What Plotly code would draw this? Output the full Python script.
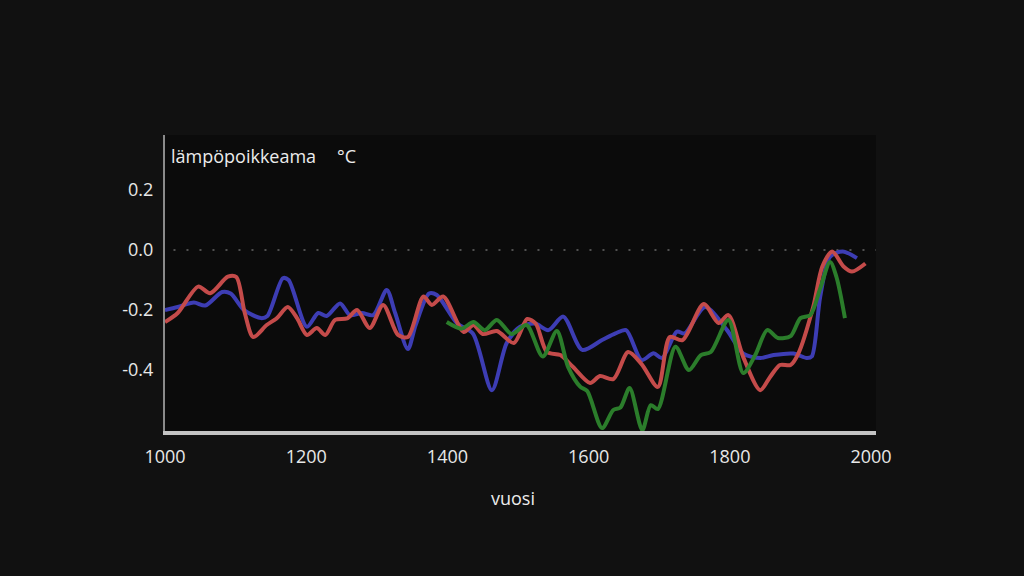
import plotly.graph_objects as go

# --- data ---
blue_years = [1000, 1018, 1041, 1057, 1081, 1093, 1112, 1136, 1145, 1167, 1175, 1201, 1217, 1229, 1248,
              1262, 1279, 1295, 1314, 1326, 1344, 1355, 1374, 1385, 1414, 1436, 1463, 1484, 1503, 1524,
              1543, 1564, 1591, 1619, 1638, 1653, 1675, 1692, 1704, 1725, 1736, 1765, 1796, 1819, 1843,
              1862, 1890, 1909, 1916, 1928, 1942, 1960, 1980]
blue_vals = [-0.20, -0.19, -0.175, -0.185, -0.14, -0.145, -0.20, -0.227, -0.22, -0.094, -0.10, -0.256,
             -0.21, -0.22, -0.178, -0.217, -0.21, -0.217, -0.133, -0.21, -0.33, -0.25, -0.145, -0.15,
             -0.245, -0.278, -0.467, -0.31, -0.256, -0.245, -0.267, -0.222, -0.333, -0.30, -0.278,
             -0.267, -0.367, -0.344, -0.36, -0.272, -0.278, -0.19, -0.267, -0.345, -0.36, -0.35, -0.345,
             -0.36, -0.355, -0.155, -0.022, -0.005, -0.027]

red_years = [1000, 1018, 1047, 1064, 1089, 1101, 1113, 1125, 1144, 1158, 1174, 1187, 1201, 1215, 1227,
             1241, 1258, 1272, 1290, 1309, 1330, 1344, 1366, 1378, 1394, 1423, 1437, 1450, 1470, 1494,
             1513, 1525, 1541, 1560, 1578, 1602, 1616, 1635, 1656, 1675, 1698, 1715, 1733, 1763, 1784,
             1798, 1819, 1843, 1857, 1871, 1886, 1897, 1918, 1931, 1945, 1961, 1973, 1992]
red_vals = [-0.24, -0.21, -0.122, -0.144, -0.089, -0.09, -0.21, -0.29, -0.25, -0.228, -0.19, -0.227,
            -0.283, -0.26, -0.283, -0.233, -0.228, -0.20, -0.26, -0.183, -0.283, -0.29, -0.155, -0.183,
            -0.155, -0.273, -0.25, -0.28, -0.27, -0.31, -0.23, -0.245, -0.34, -0.35, -0.39, -0.443,
            -0.42, -0.43, -0.34, -0.38, -0.456, -0.29, -0.30, -0.18, -0.243, -0.217, -0.357, -0.467,
            -0.423, -0.383, -0.383, -0.345, -0.19, -0.055, -0.005, -0.055, -0.072, -0.045]

green_years = [1399, 1420, 1437, 1453, 1470, 1491, 1512, 1535, 1555, 1571, 1588, 1598, 1619, 1635, 1645,
               1658, 1676, 1688, 1698, 1723, 1742, 1759, 1773, 1798, 1819, 1836, 1853, 1868, 1886, 1900,
               1914, 1928, 1942, 1951, 1963]
green_vals = [-0.24, -0.262, -0.24, -0.267, -0.233, -0.28, -0.25, -0.355, -0.27, -0.39, -0.455, -0.47,
              -0.593, -0.533, -0.525, -0.46, -0.60, -0.517, -0.53, -0.322, -0.40, -0.35, -0.34, -0.233,
              -0.41, -0.35, -0.267, -0.293, -0.287, -0.227, -0.217, -0.128, -0.04, -0.09, -0.227]

x_ticks = [1000, 1200, 1400, 1600, 1800, 2000]
y_ticks = [0.2, 0.0, -0.2, -0.4]
y_tick_text = ["0.2", "0.0", "-0.2", "-0.4"]

FONT = "Open Sans"

fig = go.Figure()
for yrs, vals, col in [(blue_years, blue_vals, "#3d3db4"),
                       (red_years, red_vals, "#c44b4a"),
                       (green_years, green_vals, "#2b7d2b")]:
    fig.add_trace(go.Scatter(x=yrs, y=vals, mode="lines",
                             line=dict(color=col, width=4, shape="spline", smoothing=0.8),
                             hoverinfo="skip", showlegend=False))

fig.add_shape(type="line", xref="x", yref="y", x0=1012, x1=2007, y0=0, y1=0,
              line=dict(color="#6a6a6a", width=1.5, dash="2px,11px"), layer="below")

fig.update_layout(
    width=1024, height=576,
    paper_bgcolor="#111111", plot_bgcolor="#0b0b0b",
    margin=dict(l=165, r=148, t=135, b=145),
    font=dict(family=FONT, size=18, color="#e8e8e8"),
    hovermode=False,
    xaxis=dict(range=[1000, 2007], tickvals=x_ticks, ticktext=[str(v) for v in x_ticks],
               showgrid=False, zeroline=False, showline=True, linecolor="#c4c4c4", linewidth=4,
               ticks="", ticklabelstandoff=6, tickfont=dict(family=FONT, size=18, color="#e8e8e8")),
    yaxis=dict(range=[-0.603, 0.383], tickvals=y_ticks, ticktext=y_tick_text,
               showgrid=False, zeroline=False, showline=True, linecolor="#8a8a8a", linewidth=2,
               ticks="", ticklabelstandoff=6, tickfont=dict(family=FONT, size=18, color="#e8e8e8")),
    annotations=[
        dict(text="lämpöpoikkeama", xref="paper", yref="paper", x=(169 - 165) / 711, y=(431 - 156) / 296,
             xanchor="left", yanchor="middle", showarrow=False,
             font=dict(family=FONT, size=18, color="#ececec")),
        dict(text="°C", xref="paper", yref="paper", x=(335 - 165) / 711, y=(431 - 156) / 296,
             xanchor="left", yanchor="middle", showarrow=False,
             font=dict(family=FONT, size=18, color="#ececec")),
        dict(text="vuosi", xref="paper", yref="paper", x=(513 - 165) / 711, y=-(498 - 431) / 296,
             xanchor="center", yanchor="middle", showarrow=False,
             font=dict(family=FONT, size=18, color="#ececec")),
    ],
)

fig.write_html("out.html",
               config={"displayModeBar": False, "staticPlot": True},
               post_script="document.body.style.margin='0';document.body.style.background='#111111';"
                           "document.body.style.overflow='hidden';")
